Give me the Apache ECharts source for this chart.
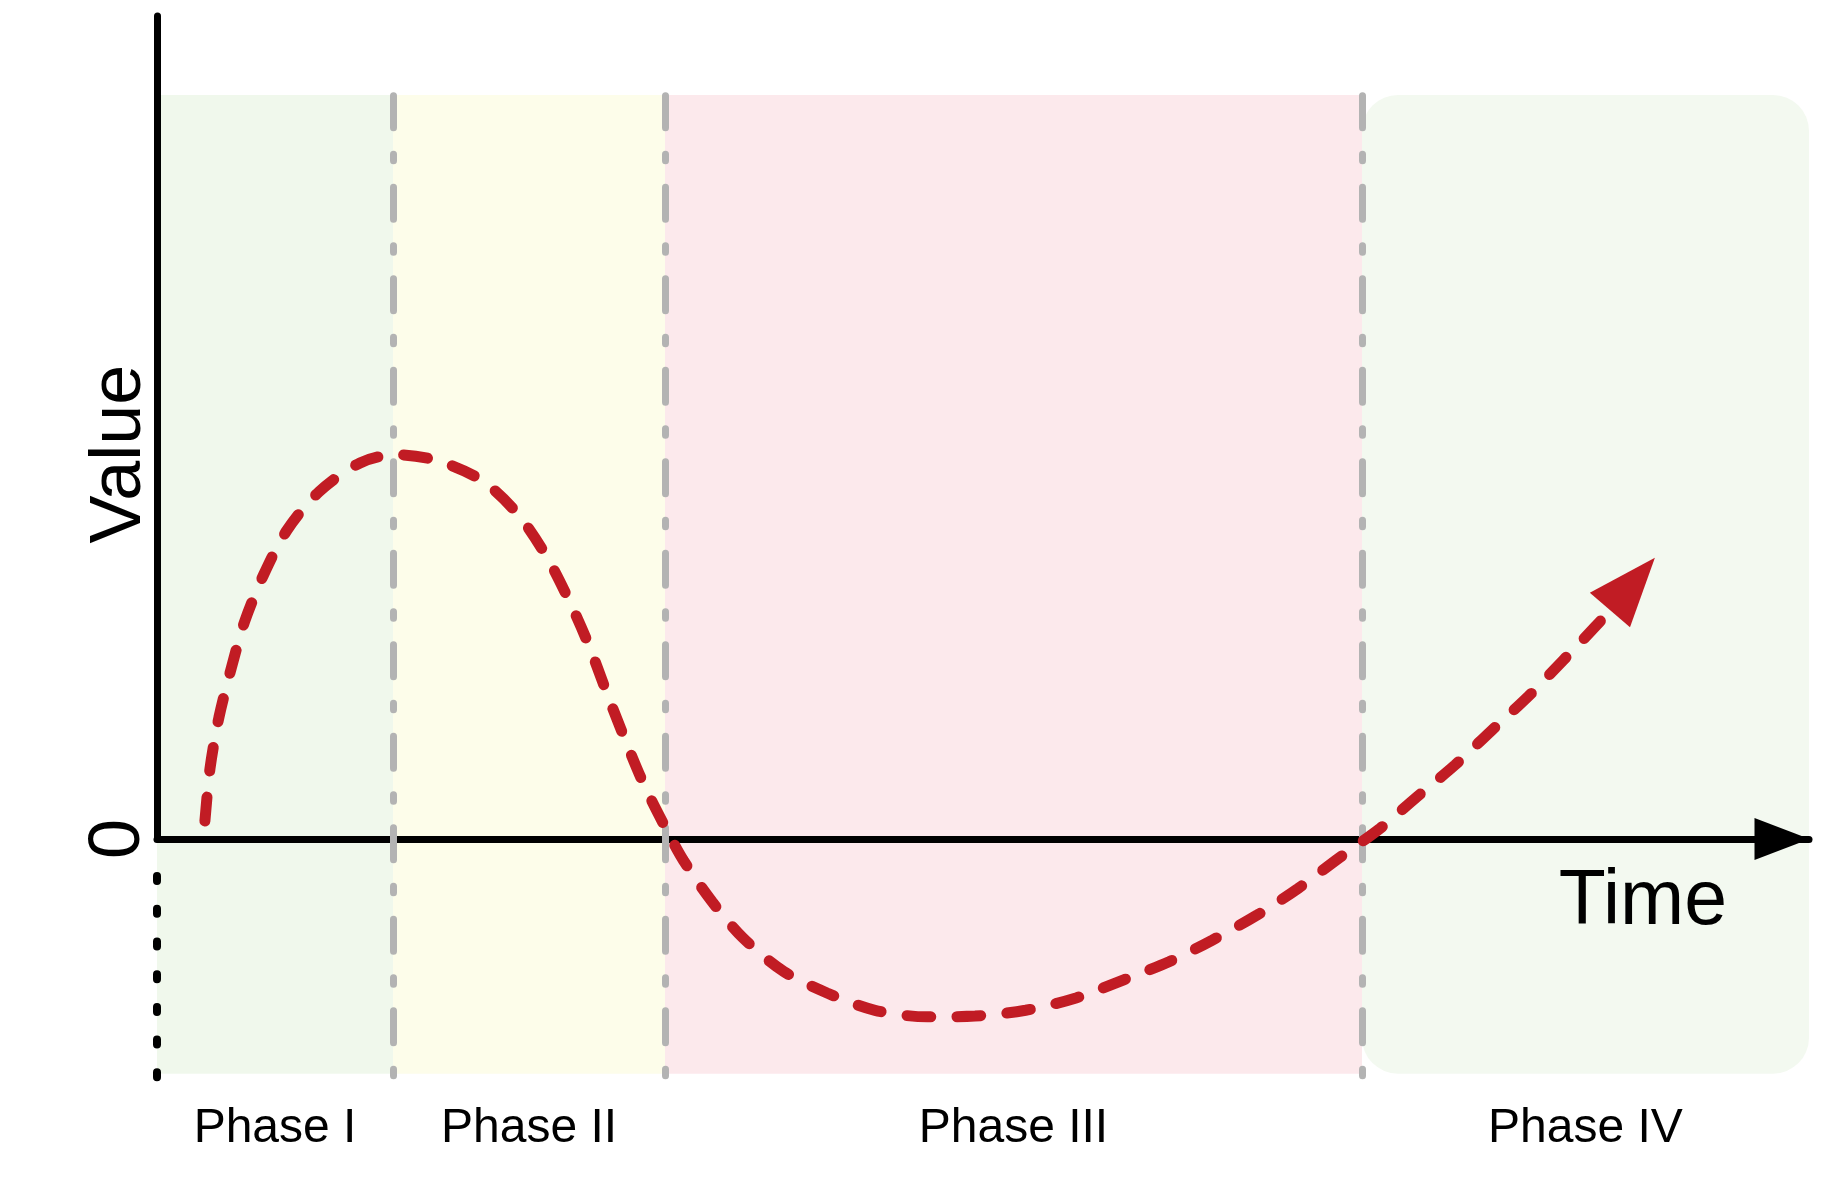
<!DOCTYPE html>
<html>
<head>
<meta charset="utf-8">
<title>Phases</title>
<script src="https://cdn.jsdelivr.net/npm/echarts@6/dist/echarts.min.js"></script>
<style>
  html, body { margin: 0; padding: 0; background: #fff; }
  #chart { width: 1824px; height: 1183px; }
</style>
</head>
<body>
<div id="chart"></div>
<script>
// phases along the time axis
var phaseNames = ['Phase I', 'Phase II', 'Phase III', 'Phase IV']
var phaseBounds = [0, 14.29, 30.75, 72.94, 100]
var bandRange = [-2.85, 9.04]

// the curve (time, value), last point is where the arrow head sits
var timeX = [2.9, 3.21, 3.75, 4.5, 5.3, 6.45, 7.86, 9.81, 12.29, 14.45, 16.94, 19.64, 21.79, 23.53, 24.94,
    26.13, 27.2, 28.29, 29.48, 30.75, 31.87, 33.6, 35.47, 37.95, 40.56, 43.46, 46.64, 49.52, 52.58, 55.63,
    58.52, 61.26, 63.86, 66.62, 69.07, 71.55, 74.04, 76.25, 78.57, 80.79, 82.99, 85.11, 87.15, 87.95, 89.31]
var valueY = [0.22, 0.86, 1.48, 2.08, 2.64, 3.21, 3.75, 4.22, 4.57, 4.67, 4.6, 4.36, 3.96, 3.45, 2.9,
    2.36, 1.79, 1.23, 0.66, 0.15, -0.26, -0.76, -1.2, -1.61, -1.87, -2.08, -2.16, -2.15, -2.08, -1.93,
    -1.71, -1.49, -1.23, -0.92, -0.6, -0.23, 0.13, 0.51, 0.9, 1.32, 1.73, 2.17, 2.6, 2.78, 3.1]

var yTicks = ['0']

var FONT = "'Liberation Sans', Arial, Helvetica, sans-serif"
var bandColors = ['#f0f8ec', '#fdfdea', '#fce9ec', '#f3f9f0']
var RED = '#c11c24'

var bandData = []
for (var i = 0; i < phaseNames.length; i++) {
    bandData.push([phaseBounds[i], phaseBounds[i + 1], bandRange[0], bandRange[1]])
}

var curveData = []
for (var j = 0; j < timeX.length; j++) {
    if (j == timeX.length - 1) {
        curveData.push({
            value: [timeX[j], valueY[j]],
            symbol: 'triangle',
            symbolSize: [53, 69],
            symbolRotate: -40.7,
            itemStyle: { color: RED },
        })
    } else {
        curveData.push([timeX[j], valueY[j]])
    }
}

// dashed grey separators between phases
var phaseLines = []
for (var k = 1; k < phaseBounds.length - 1; k++) {
    phaseLines.push([{ coord: [phaseBounds[k], 9.03] }, { coord: [phaseBounds[k], -2.9] }])
}

var myChart = echarts.init(document.getElementById('chart'))
var option = {
    animation: false,
    backgroundColor: '#fff',
    grid: { left: 157, right: 15, top: 16, bottom: 97, containLabel: false, outerBoundsMode: 'none' },
    xAxis: {
        type: 'value',
        min: 0,
        max: 100,
        z: 2,
        name: 'Time',
        nameLocation: 'end',
        nameGap: -82,
        nameTextStyle: {
            fontFamily: FONT,
            fontSize: 77,
            color: '#000',
            align: 'right',
            verticalAlign: 'top',
            padding: [25, 0, 0, 0],
        },
        axisLine: {
            onZero: true,
            lineStyle: { color: '#000', width: 7 },
            symbol: ['none', 'triangle'],
            symbolSize: [42, 55],
            symbolOffset: [0, -27],
        },
        axisTick: { show: false },
        axisLabel: { show: false },
        splitLine: { show: false },
    },
    yAxis: {
        type: 'value',
        min: -3,
        max: 10,
        interval: 1,
        name: 'Value',
        nameLocation: 'middle',
        nameRotate: 90,
        nameGap: 1,
        nameMoveOverlap: false,
        nameTextStyle: {
            fontFamily: FONT,
            fontSize: 72,
            color: '#000',
            padding: [0, 0, 0, 194],
        },
        axisLine: { show: false },
        axisTick: { show: false },
        splitLine: { show: false },
        axisLabel: {
            rotate: 90,
            margin: 2,
            fontFamily: FONT,
            fontSize: 72,
            color: '#000',
            formatter: function (v) {
                return yTicks.indexOf(String(v)) >= 0 ? String(v) : ''
            },
        },
    },
    series: [
        {
            // phase bands + their names
            type: 'custom',
            z: 1,
            silent: true,
            clip: false,
            data: bandData,
            encode: { x: [0, 1], y: [2, 3] },
            renderItem: function (params, api) {
                var idx = params.dataIndex
                var p0 = api.coord([api.value(0), api.value(3)])
                var p1 = api.coord([api.value(1), api.value(2)])
                var r = idx == 3 ? 36 : 0
                return {
                    type: 'group',
                    children: [
                        {
                            type: 'rect',
                            shape: { x: p0[0], y: p0[1], width: p1[0] - p0[0], height: p1[1] - p0[1], r: r },
                            style: { fill: bandColors[idx] },
                        },
                        {
                            type: 'text',
                            style: {
                                text: phaseNames[idx],
                                x: (p0[0] + p1[0]) / 2,
                                y: p1[1] + 55,
                                align: 'center',
                                verticalAlign: 'middle',
                                fill: '#000',
                                font: '48px ' + FONT,
                            },
                        },
                    ],
                }
            },
            markLine: {
                z: 3,
                silent: true,
                symbol: ['none', 'none'],
                label: { show: false },
                lineStyle: { color: '#b3b3b3', width: 7, type: [32, 26.5, 6.5, 26.5], cap: 'round' },
                data: phaseLines,
            },
        },
        {
            type: 'line',
            z: 5,
            smooth: 0.3,
            symbol: 'none',
            data: curveData,
            lineStyle: { color: RED, width: 11, type: [24, 26], cap: 'round' },
            itemStyle: { color: RED },
            markLine: {
                // the value axis: solid above zero, dotted below
                z: 4,
                silent: true,
                symbol: ['none', 'none'],
                label: { show: false },
                data: [
                    [
                        { coord: [0, 0], lineStyle: { color: '#000', width: 7, type: 'solid', cap: 'round' } },
                        { coord: [0, 10] },
                    ],
                    [
                        { coord: [0, -0.45], lineStyle: { color: '#000', width: 8, type: [5, 27.7], cap: 'round' } },
                        { coord: [0, -2.95] },
                    ],
                ],
            },
        },
    ],
}
myChart.setOption(option)
</script>
</body>
</html>
